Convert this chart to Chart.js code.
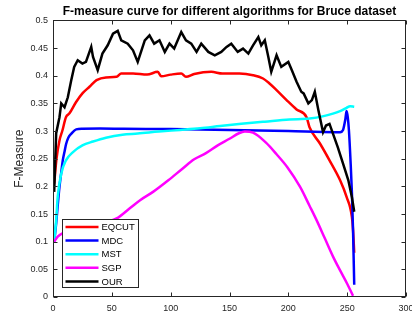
<!DOCTYPE html>
<html>
<head>
<meta charset="utf-8">
<script src="https://cdn.jsdelivr.net/npm/chart.js@4"></script>
<style>
    html, body { margin: 0; padding: 0; background: #fff; }
    #wrap { width: 412px; height: 322px; }
</style>
</head>
<body>
<div id="wrap"><canvas id="myChart" width="412" height="322"></canvas></div>
<script>
// values
const seriesNames = ["EQCUT", "MDC", "MST", "SGP", "OUR"];
const seriesColors = ["#ff0000", "#0000ff", "#00ffff", "#ff00ff", "#000000"];

const eqcutX = [1, 3, 5.5, 8, 11, 14, 19.5, 25, 31, 37, 45, 54, 58, 68, 80, 89, 92, 100, 109, 113, 120, 134.5, 144, 158.5, 170, 178.5, 184, 190, 198.5, 207, 215.5, 218, 227, 235, 244, 249.5, 254, 255, 256];
const eqcutY = [0.205, 0.25, 0.283, 0.301, 0.325, 0.332, 0.352, 0.368, 0.38, 0.392, 0.397, 0.398, 0.404, 0.404, 0.402, 0.407, 0.399, 0.402, 0.404, 0.398, 0.403, 0.407, 0.404, 0.404, 0.401, 0.395, 0.386, 0.374, 0.356, 0.339, 0.325, 0.307, 0.277, 0.247, 0.211, 0.181, 0.145, 0.121, 0.08];

const mdcX = [1, 2.7, 4, 5.5, 7, 8.3, 10, 11.2, 13, 15.5, 19.7, 25, 40, 60, 100, 150, 200, 240, 244, 246.5, 248.5, 249.5, 250.5, 251.5, 253, 254, 255, 256];
const mdcY = [0.1, 0.133, 0.165, 0.199, 0.225, 0.247, 0.265, 0.277, 0.288, 0.295, 0.303, 0.304, 0.3045, 0.304, 0.3035, 0.302, 0.3, 0.298, 0.298, 0.302, 0.322, 0.336, 0.325, 0.301, 0.24, 0.19, 0.12, 0.022];

const mstX = [1, 2.7, 4, 7, 11, 17, 25, 34, 45, 59, 72, 90, 108, 125, 142, 160, 180, 201, 218, 230, 244, 249.5, 252.5, 256];
const mstY = [0.1, 0.139, 0.181, 0.223, 0.247, 0.262, 0.274, 0.281, 0.288, 0.2935, 0.2955, 0.299, 0.302, 0.305, 0.309, 0.313, 0.317, 0.321, 0.3225, 0.327, 0.336, 0.342, 0.345, 0.344];

const sgpX = [1, 4, 8, 15, 25, 40, 54, 65, 74, 85, 98, 110, 120, 130, 140, 150, 158, 163, 170, 181, 190, 199, 210, 218, 224, 231, 238, 244, 250, 255];
const sgpY = [0.1, 0.109, 0.115, 0.12, 0.125, 0.133, 0.142, 0.16, 0.175, 0.19, 0.211, 0.232, 0.249, 0.26, 0.274, 0.286, 0.296, 0.299, 0.297, 0.279, 0.258, 0.235, 0.199, 0.165, 0.139, 0.106, 0.073, 0.048, 0.024, 0.002];

const ourX = [1, 2.7, 5.5, 7, 9.8, 12.6, 15.5, 18, 21, 25, 28, 32.5, 34, 38, 42, 46.5, 51, 55, 58, 63.5, 68, 72, 78, 82, 86, 90.5, 95, 99, 103, 109, 113, 117.5, 122, 126, 132, 137.5, 143, 147.5, 151.5, 157, 161.5, 166, 170, 174.5, 177, 180, 183, 185.5, 190, 194, 200, 203, 207, 211, 213, 217, 220, 222.5, 225.5, 229.5, 232, 235, 238, 242, 246.5, 251, 254, 256];
const ourY = [0.19, 0.296, 0.325, 0.35, 0.343, 0.361, 0.392, 0.416, 0.428, 0.422, 0.425, 0.452, 0.434, 0.41, 0.44, 0.455, 0.476, 0.481, 0.464, 0.458, 0.446, 0.425, 0.464, 0.473, 0.458, 0.464, 0.443, 0.458, 0.449, 0.479, 0.464, 0.458, 0.443, 0.458, 0.443, 0.437, 0.443, 0.452, 0.458, 0.443, 0.449, 0.44, 0.455, 0.47, 0.455, 0.464, 0.434, 0.407, 0.437, 0.416, 0.425, 0.41, 0.389, 0.371, 0.368, 0.35, 0.356, 0.371, 0.338, 0.298, 0.31, 0.313, 0.295, 0.271, 0.241, 0.211, 0.181, 0.154];

const xTickMin = 0, xTickMax = 300, xTickStep = 50;
const yTickMin = 0, yTickMax = 0.5, yTickStep = 0.05;

const seriesX = [eqcutX, mdcX, mstX, sgpX, ourX];
const seriesY = [eqcutY, mdcY, mstY, sgpY, ourY];

Chart.defaults.font.family = "'Liberation Sans', Arial, Helvetica, sans-serif";

// matlab style box, inward ticks and legend inside the axes
const matlabAxes = {
    id: "matlabAxes",
    afterDatasetsDraw(chart) {
        let ctx = chart.ctx;
        let a = chart.chartArea;
        let xs = chart.scales.x;
        let ys = chart.scales.y;
        let L = Math.round(a.left) + 0.5, R = Math.round(a.right) - 0.5;
        let T = Math.round(a.top) + 0.5, B = Math.round(a.bottom) - 0.5;
        let tl = 4;

        ctx.save();

        // legend
        let rowH = 13.6;
        let boxW = 76, boxH = 68;
        let bx = Math.round(a.left + 9) + 0.5;
        let by = Math.round(a.bottom - 10 - boxH) + 0.5;
        ctx.fillStyle = "#ffffff";
        ctx.fillRect(bx, by, boxW, boxH);
        ctx.strokeStyle = "#262626";
        ctx.lineWidth = 1;
        ctx.strokeRect(bx, by, boxW, boxH);
        ctx.font = "9.5px 'Liberation Sans', Arial, sans-serif";
        ctx.textBaseline = "middle";
        ctx.textAlign = "left";
        chart.data.datasets.forEach((ds, i) => {
            let ry = by + 7.5 + i * rowH;
            ctx.strokeStyle = ds.borderColor;
            ctx.lineWidth = 2.5;
            ctx.beginPath();
            ctx.moveTo(bx + 3, ry);
            ctx.lineTo(bx + 36, ry);
            ctx.stroke();
            ctx.fillStyle = "#000000";
            ctx.fillText(ds.label, bx + 39, ry + 0.5);
        });

        // axes box
        ctx.strokeStyle = "#262626";
        ctx.lineWidth = 1;
        ctx.strokeRect(L, T, R - L, B - T);

        ctx.beginPath();
        xs.ticks.forEach(t => {
            let px = Math.round(xs.getPixelForValue(t.value)) + 0.5;
            ctx.moveTo(px, B); ctx.lineTo(px, B - tl);
            ctx.moveTo(px, T); ctx.lineTo(px, T + tl);
        });
        ys.ticks.forEach(t => {
            let py = Math.round(ys.getPixelForValue(t.value)) + 0.5;
            ctx.moveTo(L, py); ctx.lineTo(L + tl, py);
            ctx.moveTo(R, py); ctx.lineTo(R - tl, py);
        });
        ctx.stroke();
        ctx.restore();
    }
};

let ctx = document.getElementById("myChart").getContext("2d");

let datasets = seriesNames.map((name, i) => ({
    label: name,
    data: seriesX[i].map((x, j) => ({ x: x, y: seriesY[i][j] })),
    borderColor: seriesColors[i],
    backgroundColor: seriesColors[i],
    borderWidth: 2.5,
    pointRadius: 0,
    fill: false,
    tension: 0,
    cubicInterpolationMode: name === "OUR" ? "default" : "monotone",
    order: seriesNames.length - i
}));

let myChart = new Chart(ctx, {
    type: "line",
    data: { datasets: datasets },
    plugins: [matlabAxes],
    options: {
        responsive: false,
        animation: false,
        layout: { padding: { left: 0, right: 6, top: 0, bottom: 0 } },
        plugins: {
            legend: { display: false },
            tooltip: { enabled: false },
            title: {
                display: true,
                text: "F-measure curve for different algorithms for Bruce dataset",
                fullSize: false,
                color: "#000",
                font: { size: 12, weight: "bold" },
                padding: { top: 4, bottom: 2 }
            }
        },
        scales: {
            x: {
                type: "linear",
                min: xTickMin,
                max: xTickMax,
                grid: { display: false, drawTicks: false },
                border: { display: false },
                ticks: {
                    stepSize: xTickStep,
                    color: "#262626",
                    font: { size: 9 },
                    padding: 6,
                    maxRotation: 0,
                    minRotation: 0
                },
                afterFit: function (scale) {
                    scale.height = 25;
                    scale.paddingLeft = 0;
                    scale.paddingRight = 0;
                }
            },
            y: {
                min: yTickMin,
                max: yTickMax,
                grid: { display: false, drawTicks: false },
                border: { display: false },
                title: {
                    display: true,
                    text: "F-Measure",
                    color: "#262626",
                    font: { size: 12 },
                    padding: { top: 12, bottom: 0 }
                },
                ticks: {
                    stepSize: yTickStep,
                    color: "#262626",
                    font: { size: 9 },
                    padding: 5,
                    callback: function (v) { return String(Number(v.toFixed(2))); }
                },
                afterFit: function (scale) {
                    scale.width = 53;
                    scale.paddingTop = 0;
                    scale.paddingBottom = 0;
                }
            }
        }
    }
});
</script>
</body>
</html>
